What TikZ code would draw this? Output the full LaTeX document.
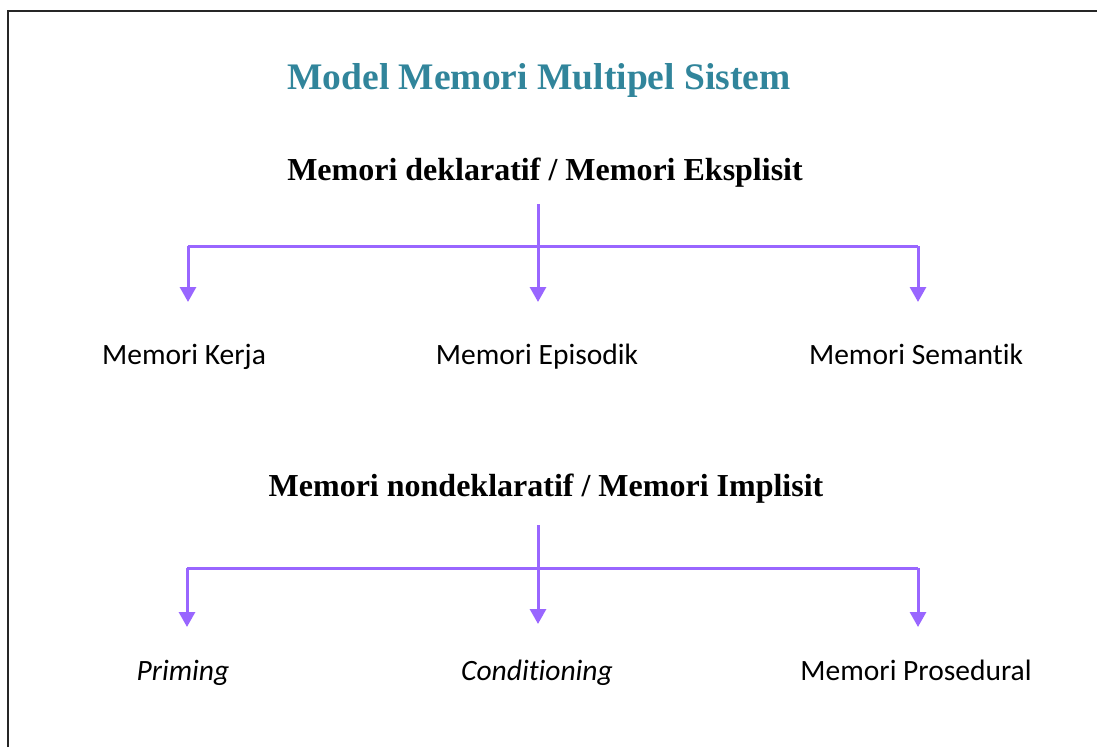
\documentclass[tikz,border=0pt]{standalone}
\usepackage{fontspec}
\setmainfont{Liberation Serif}
\newfontfamily\itemfont[Ligatures=NoCommon]{Carlito}
\usetikzlibrary{arrows.meta}
\definecolor{titleteal}{RGB}{49,133,155}
\definecolor{branchviolet}{RGB}{153,102,255}
\begin{document}
\begin{tikzpicture}[x=1pt,y=-1pt,
  title/.style={font=\fontsize{37.5}{40}\selectfont\bfseries, text=titleteal, inner sep=0pt, anchor=base},
  heading/.style={font=\fontsize{32}{36}\selectfont\bfseries, inner sep=0pt, anchor=base},
  leaf/.style={font=\itemfont\fontsize{29.5}{33}\selectfont, inner sep=0pt, anchor=base},
  branch/.style={draw=branchviolet, line width=3pt},
  arr/.style={branch, -{Triangle[width=16pt,length=15pt]}}]
  \useasboundingbox (0,0) rectangle (1097,747);
  % frame (open at right and bottom)
  \draw[line width=2pt, black!85] (8,747) -- (8,11) -- (1097,11);

  \node[title] (t) at (539,89) {Model Memori Multipel Sistem};

  % declarative branch
  \node[heading] (d) at (545,180) {Memori deklaratif / Memori Eksplisit};
  \node[leaf] (k) at (184,364) {Memori Kerja};
  \node[leaf] (e) at (537,364) {Memori Episodik};
  \node[leaf] (s) at (916,364) {Memori Semantik};
  \coordinate (dtop) at (538,204);
  \coordinate (dl) at (188,246);
  \coordinate (dr) at (918,246);
  \coordinate (dlt) at (188,302);
  \coordinate (dct) at (538,302);
  \coordinate (drt) at (918,302);
  \draw[branch] (dl) -- (dr);
  \draw[arr] (dtop) -- (dct);
  \draw[arr] (dl) -- (dlt);
  \draw[arr] (dr) -- (drt);

  % nondeclarative branch
  \node[heading] (n) at (546,496) {Memori nondeklaratif / Memori Implisit};
  \node[leaf] (p) at (183,680) {\itshape Priming};
  \node[leaf] (c) at (537,680) {\itshape Conditioning};
  \node[leaf] (r) at (916,680) {Memori Prosedural};
  \coordinate (ntop) at (538,525);
  \coordinate (nl) at (187,568);
  \coordinate (nr) at (918,568);
  \coordinate (nlt) at (187,627);
  \coordinate (nct) at (538,624);
  \coordinate (nrt) at (918,627);
  \draw[branch] (nl) -- (nr);
  \draw[arr] (ntop) -- (nct);
  \draw[arr] (nl) -- (nlt);
  \draw[arr] (nr) -- (nrt);
\end{tikzpicture}
\end{document}
